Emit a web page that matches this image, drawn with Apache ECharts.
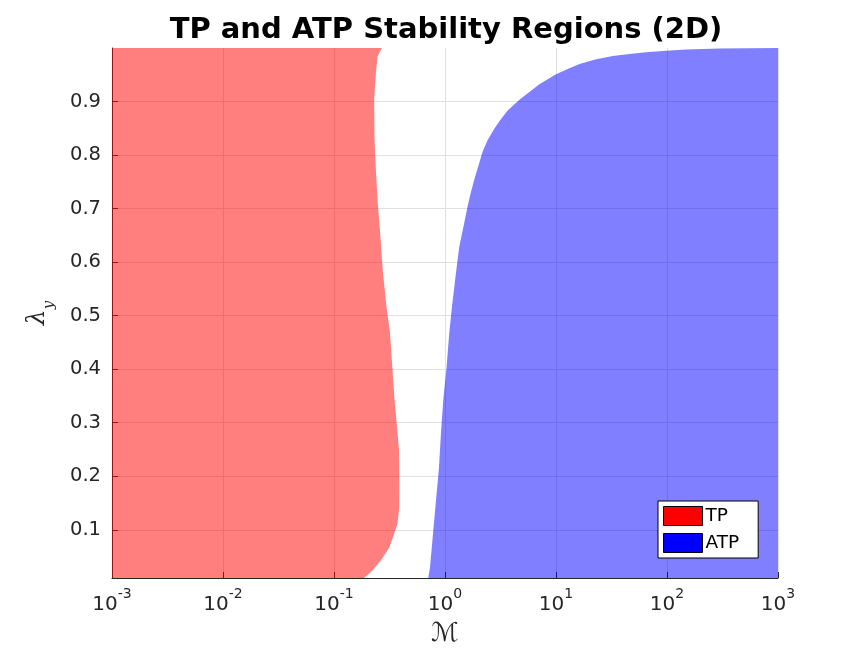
<!DOCTYPE html>
<html>
<head>
<meta charset="utf-8">
<script src="https://cdn.jsdelivr.net/npm/echarts@6/dist/echarts.min.js"></script>
<style>
  html, body { margin: 0; padding: 0; background: #fff; }
  #chart { width: 859px; height: 653px; }
</style>
</head>
<body>
<div id="chart"></div>
<script>
var xRange = [0.001, 1000];
var yRange = [0.01, 1.0];

// TP region: filled from the left edge to this boundary (bottom -> top)
var tpLambda = [0.01, 0.024, 0.043, 0.067, 0.093, 0.112, 0.142, 0.18, 0.217, 0.249, 0.281, 0.343,
  0.405, 0.469, 0.517, 0.580, 0.643, 0.705, 0.768, 0.829, 0.904, 0.955, 0.984, 1.0];
var tpM = [0.187, 0.222, 0.265, 0.315, 0.349, 0.374, 0.387, 0.388, 0.387, 0.385, 0.374, 0.351,
  0.335, 0.319, 0.297, 0.276, 0.263, 0.249, 0.239, 0.232, 0.230, 0.239, 0.247, 0.270];

// ATP region: filled from this boundary to the right edge (bottom -> top)
var atpLambda = [0.01, 0.03, 0.093, 0.155, 0.217, 0.281, 0.343, 0.404, 0.468, 0.517, 0.580, 0.629,
  0.674, 0.705, 0.730, 0.755, 0.786, 0.806, 0.8275, 0.849, 0.863, 0.883, 0.9034, 0.918, 0.9324, 0.951,
  0.962, 0.970, 0.979, 0.985, 0.989, 0.992, 0.995, 0.997, 0.999, 1.0];
var atpM = [0.707, 0.733, 0.780, 0.830, 0.883, 0.920, 0.965, 1.034, 1.093, 1.156, 1.256, 1.346,
  1.493, 1.60, 1.71, 1.84, 2.04, 2.18, 2.42, 2.78, 3.09, 3.65, 4.68, 5.76, 7.08, 10.0,
  13.2, 16.3, 23.0, 32.5, 45.9, 64.9, 98.4, 149, 297, 1000];

var tpPoly = [[xRange[0], yRange[0]]];
for (var i = 0; i < tpM.length; i++) tpPoly.push([tpM[i], tpLambda[i]]);
tpPoly.push([xRange[0], yRange[1]]);

var atpPoly = [];
for (var j = 0; j < atpM.length; j++) atpPoly.push([atpM[j], atpLambda[j]]);
atpPoly.push([xRange[1], yRange[1]]);
atpPoly.push([xRange[1], yRange[0]]);

function polygonRenderer(poly, fill) {
  return function (params, api) {
    if (params.dataIndex !== 0) return;
    var pts = poly.map(function (p) { return api.coord(p); });
    return { type: 'polygon', shape: { points: pts }, style: { fill: fill } };
  };
}

var axisColor = '#262626';
var chart = echarts.init(document.getElementById('chart'));
var option = {
  animation: false,
  backgroundColor: '#fff',
  title: {
    text: 'TP and ATP Stability Regions (2D)',
    left: 441, textAlign: 'center', top: 11,
    textStyle: { fontFamily: 'DejaVu Sans', fontWeight: 'bold', fontSize: 29, color: '#000' }
  },
  grid: { left: 112, right: 81, top: 48, bottom: 75 },
  legend: {
    orient: 'vertical',
    left: 658, top: 501,
    padding: [5, 19, 5, 5],
    itemGap: 7,
    itemWidth: 39, itemHeight: 19,
    icon: 'rect',
    backgroundColor: '#fff',
    borderColor: '#000', borderWidth: 1, borderRadius: 0,
    textStyle: { fontFamily: 'DejaVu Sans', fontSize: 18.5, color: '#000', padding: [0, 0, 0, -2] },
    data: [
      { name: 'TP', itemStyle: { color: '#ff0000', borderColor: '#000', borderWidth: 1 } },
      { name: 'ATP', itemStyle: { color: '#0000ff', borderColor: '#000', borderWidth: 1 } }
    ]
  },
  xAxis: {
    type: 'log', logBase: 10,
    min: xRange[0], max: xRange[1], splitNumber: 6,
    name: '\u2133', nameLocation: 'middle', nameGap: 43,
    nameTextStyle: { fontFamily: 'DejaVu Sans', fontSize: 26, color: axisColor },
    axisLine: { show: true, lineStyle: { color: axisColor, width: 1 } },
    axisTick: { show: true, inside: true, length: 6, lineStyle: { color: axisColor } },
    splitLine: { show: true, showMinLine: false, showMaxLine: true, lineStyle: { color: '#dfdfdf', width: 1 } },
    axisLabel: {
      margin: 9,
      formatter: function (v) {
        return '{b|10}{s|' + Math.round(Math.log10(v)) + '}';
      },
      rich: {
        b: { fontFamily: 'DejaVu Sans', fontSize: 20, color: axisColor, lineHeight: 28, verticalAlign: 'bottom' },
        s: { fontFamily: 'DejaVu Sans', fontSize: 14, color: axisColor, lineHeight: 28, verticalAlign: 'top' }
      }
    }
  },
  yAxis: {
    type: 'value',
    min: yRange[0], max: yRange[1], splitNumber: 10,
    name: '{l|\u03bb}{s|y}', nameLocation: 'middle', nameGap: 55, nameRotate: 90,
    nameTextStyle: {
      rich: {
        l: { fontFamily: 'DejaVu Serif', fontStyle: 'italic', fontSize: 25, color: axisColor, lineHeight: 32, verticalAlign: 'top' },
        s: { fontFamily: 'DejaVu Serif', fontStyle: 'italic', fontSize: 15, color: axisColor, lineHeight: 32, verticalAlign: 'bottom' }
      }
    },
    axisLine: { show: true, lineStyle: { color: axisColor, width: 1 } },
    axisTick: { show: true, inside: true, length: 6, lineStyle: { color: axisColor } },
    splitLine: { show: true, showMinLine: false, showMaxLine: false, lineStyle: { color: '#dfdfdf', width: 1 } },
    axisLabel: {
      showMinLabel: false, showMaxLabel: false, margin: 11,
      fontFamily: 'DejaVu Sans', fontSize: 19.5, color: axisColor,
      formatter: function (v) { return v.toFixed(1); }
    }
  },
  series: [
    {
      name: 'TP', type: 'custom', silent: true,
      itemStyle: { color: '#ff0000' },
      renderItem: polygonRenderer(tpPoly, 'rgba(255,0,0,0.5)'),
      encode: { x: 0, y: 1 },
      data: tpPoly
    },
    {
      name: 'ATP', type: 'custom', silent: true,
      itemStyle: { color: '#0000ff' },
      renderItem: polygonRenderer(atpPoly, 'rgba(0,0,255,0.5)'),
      encode: { x: 0, y: 1 },
      data: atpPoly
    }
  ]
};
chart.setOption(option);
</script>
</body>
</html>
